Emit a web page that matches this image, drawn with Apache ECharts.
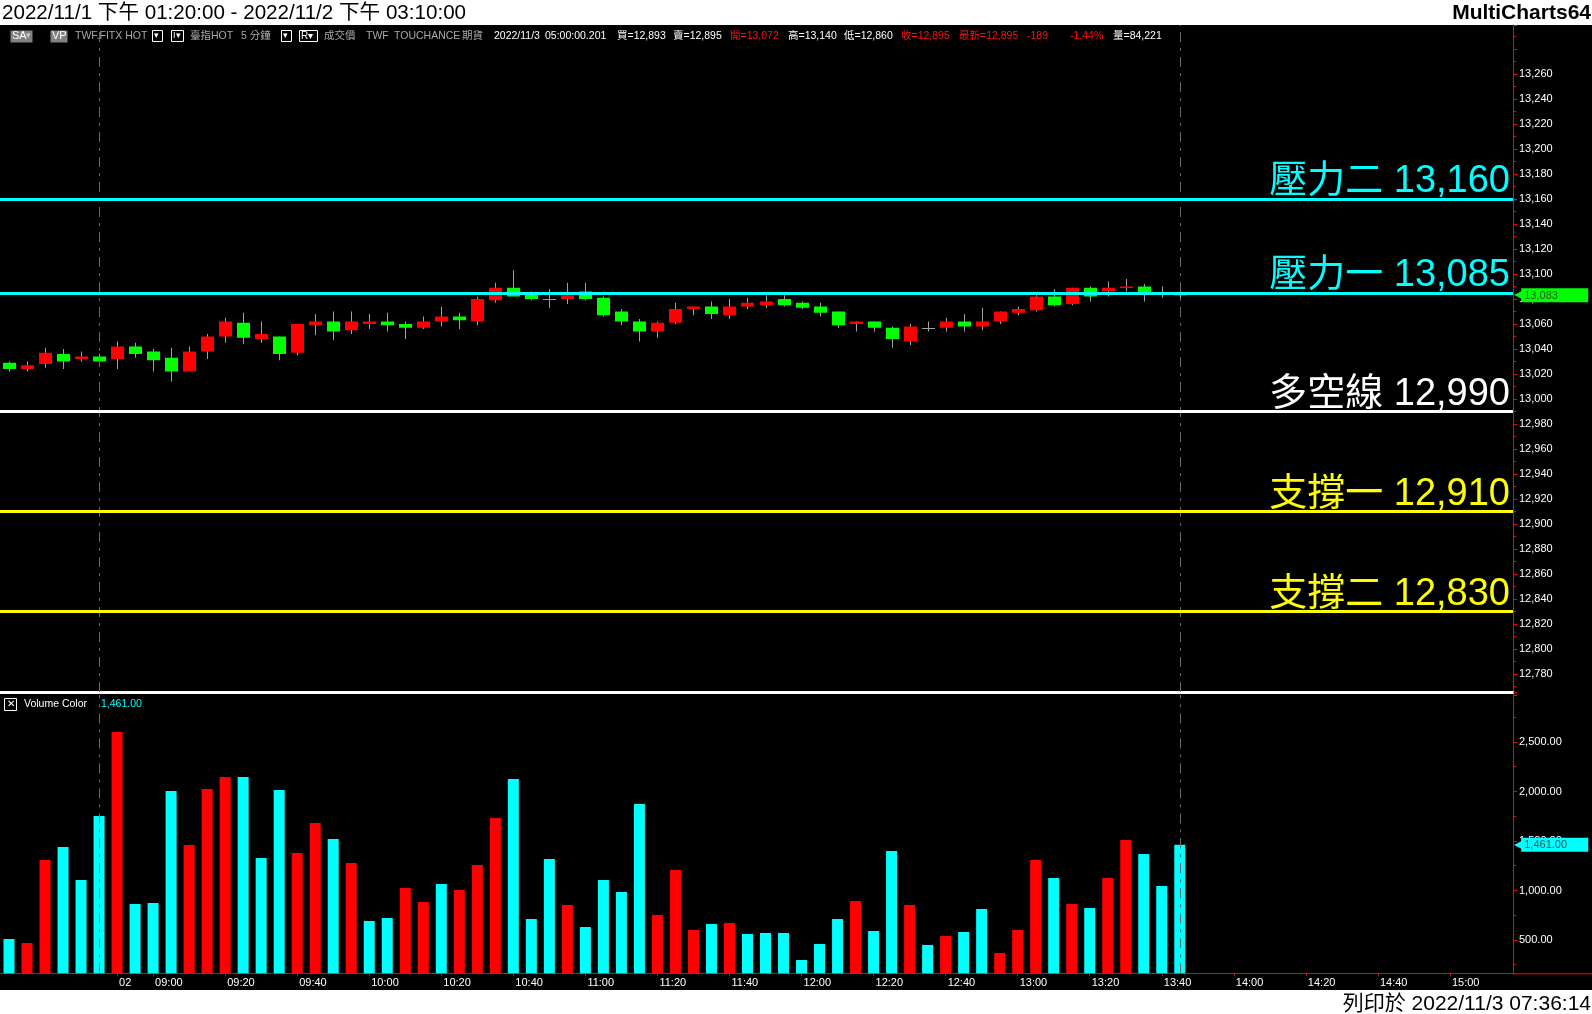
<!DOCTYPE html>
<html><head><meta charset="utf-8">
<script src="https://cdn.jsdelivr.net/npm/echarts@6/dist/echarts.min.js"></script>
<style>
html,body{margin:0;padding:0;background:#fff;overflow:hidden;}
#bg{position:absolute;left:0;top:25px;width:1592px;height:965px;background:#000;}
#c{position:absolute;left:0;top:0;width:1592px;height:1014px;}
</style></head><body><div id="bg"></div><div id="c"></div>
<script>
// ---------------- DATA ----------------
const categories = [
'11/1 13:20','11/1 13:25','11/1 13:30','11/1 13:35','11/1 13:40','11/1 13:45',
'11/2 08:50','11/2 08:55',
'11/2 09:00','11/2 09:05','11/2 09:10','11/2 09:15','11/2 09:20','11/2 09:25','11/2 09:30','11/2 09:35','11/2 09:40','11/2 09:45','11/2 09:50','11/2 09:55',
'11/2 10:00','11/2 10:05','11/2 10:10','11/2 10:15','11/2 10:20','11/2 10:25','11/2 10:30','11/2 10:35','11/2 10:40','11/2 10:45','11/2 10:50','11/2 10:55',
'11/2 11:00','11/2 11:05','11/2 11:10','11/2 11:15','11/2 11:20','11/2 11:25','11/2 11:30','11/2 11:35','11/2 11:40','11/2 11:45','11/2 11:50','11/2 11:55',
'11/2 12:00','11/2 12:05','11/2 12:10','11/2 12:15','11/2 12:20','11/2 12:25','11/2 12:30','11/2 12:35','11/2 12:40','11/2 12:45','11/2 12:50','11/2 12:55',
'11/2 13:00','11/2 13:05','11/2 13:10','11/2 13:15','11/2 13:20','11/2 13:25','11/2 13:30','11/2 13:35','11/2 13:40','11/2 13:45','11/2 13:50','11/2 13:55',
'11/2 14:00','11/2 14:05','11/2 14:10','11/2 14:15','11/2 14:20','11/2 14:25','11/2 14:30','11/2 14:35','11/2 14:40','11/2 14:45','11/2 14:50','11/2 14:55',
'11/2 15:00','11/2 15:05','11/2 15:10','11/2 15:15'
];
const openP  = [13029,13024,13028,13036,13032,13034,13032,13042,13038,13033,13022,13038,13050,13061,13048,13050,13037,13059,13062,13055,13060,13062,13060,13057,13062,13066,13062,13079,13089,13084,13080,13080,13086,13081,13070,13062,13054,13061,13072,13074,13067,13074,13075,13080,13077,13074,13070,13060,13062,13057,13046,13057,13057,13062,13058,13062,13069,13071,13082,13076,13089,13086,13089,13090,13084,13085];
const highP  = [13030,13030,13041,13040,13038,13036,13046,13045,13040,13041,13042,13052,13065,13069,13062,13050,13060,13068,13070,13070,13068,13069,13062,13066,13074,13069,13082,13093,13103,13086,13088,13093,13093,13082,13072,13064,13062,13077,13074,13078,13080,13081,13083,13083,13078,13077,13070,13062,13062,13058,13060,13062,13065,13068,13073,13070,13074,13083,13088,13089,13090,13094,13096,13092,13090,13086];
const lowP   = [13022,13022,13025,13024,13030,13028,13024,13033,13022,13014,13022,13032,13045,13044,13045,13031,13035,13051,13047,13052,13056,13054,13048,13056,13058,13056,13059,13077,13082,13079,13073,13076,13079,13066,13059,13046,13049,13060,13067,13064,13064,13072,13073,13074,13072,13066,13057,13054,13054,13041,13043,13054,13054,13054,13055,13060,13067,13070,13074,13075,13078,13082,13086,13078,13081,13080];
const closeP = [13024,13027,13037,13030,13034,13030,13042,13036,13031,13022,13038,13050,13062,13049,13052,13036,13060,13062,13054,13062,13062,13059,13057,13062,13066,13063,13080,13089,13082,13080,13080,13083,13080,13067,13062,13054,13061,13072,13074,13068,13074,13077,13078,13075,13073,13069,13059,13062,13057,13048,13058,13057,13062,13058,13062,13070,13072,13082,13075,13089,13082,13089,13090,13085,13084,13083];
const volume = [510,470,1308,1439,1106,1753,2601,864,874,2005,1460,2025,2146,2146,1328,2015,1379,1682,1520,1278,692,722,1025,884,1066,1005,1258,1732,2126,712,1318,854,631,1106,985,1874,753,1207,601,662,672,561,571,571,298,460,712,894,591,1399,854,450,540,581,813,369,601,1308,1126,864,823,1126,1510,1369,1045,1461];
const volDir = ['d','u','u','d','d','d','u','d','d','d','u','u','u','d','d','d','u','u','d','u','d','d','u','u','d','u','u','u','d','d','d','u','d','d','d','d','u','u','u','d','u','d','d','d','d','d','d','u','d','d','u','d','u','d','d','u','u','u','d','u','d','u','u','d','d','d'];
const levelNames  = ['壓力二','壓力一','多空線','支撐一','支撐二'];
const levelValues = [13160,13085,12990,12910,12830];
const sessionEnds = ['11/1 13:45','11/2 13:45'];
const xTickCats   = ['11/2 08:50','11/2 09:00','11/2 09:20','11/2 09:40','11/2 10:00','11/2 10:20','11/2 10:40','11/2 11:00','11/2 11:20','11/2 11:40','11/2 12:00','11/2 12:20','11/2 12:40','11/2 13:00','11/2 13:20','11/2 13:40','11/2 14:00','11/2 14:20','11/2 14:40','11/2 15:00'];
const xTickLabels = ['02','09:00','09:20','09:40','10:00','10:20','10:40','11:00','11:20','11:40','12:00','12:20','12:40','13:00','13:20','13:40','14:00','14:20','14:40','15:00'];
const lastPrice = 13083;
const lastVolume = 1461;

// ---------------- STYLE / LAYOUT ----------------
const levelColors = ['#00ffff','#00ffff','#ffffff','#ffff00','#ffff00'];
const UP = '#ff0000', DOWN = '#00ff00', VUP = '#ff0000', VDOWN = '#00ffff', AXIS = '#ff0000';
const FONT = '"Liberation Sans", Arial, "Noto Sans CJK TC", sans-serif';
const G0 = {left: 0, right: 79, top: 25, height: 667};
const G1 = {left: 0, right: 79, top: 695, height: 278.3};
const priceRange = [12765.6, 13299.2];
const volRange = [163.6, 2974.7];

const fmtInt = v => Math.round(v).toLocaleString('en-US');
const fmt2 = v => v.toLocaleString('en-US', {minimumFractionDigits: 2, maximumFractionDigits: 2});
const tickMap = {};
xTickCats.forEach((c, i) => { tickMap[c] = xTickLabels[i]; });
const tickShow = (idx, val) => tickMap[val] !== undefined;

const candleData = categories.slice(0, openP.length).map((c, i) => [i, openP[i], closeP[i], lowP[i], highP[i]]);
const volData = volume.map((v, i) => ({value: v, itemStyle: {color: volDir[i] === 'u' ? VUP : VDOWN}}));

const chart = echarts.init(document.getElementById('c'), null, {renderer: 'canvas'});

function txt(x, y, text, color, size, extra) {
  return Object.assign({type: 'text', x: x, y: y, silent: true, z: 10,
    style: Object.assign({text: text, fill: color, font: (size || 10.5) + 'px ' + FONT,
      textVerticalAlign: 'middle', verticalAlign: 'middle'}, (extra || {}))});
}
function box(x, y, w, h, fill, stroke) {
  return {type: 'rect', silent: true, z: 9, shape: {x: x, y: y, width: w, height: h},
    style: {fill: fill || 'none', stroke: stroke || null, lineWidth: 1}};
}
const GRAY = '#a8a8b0', RED = '#ff1010', WHITE = '#ffffff';
const IY = 36;
const graphics = [
  txt(2, 13, '2022/11/1 下午 01:20:00 - 2022/11/2 下午 03:10:00', '#000', 20.6),
  txt(1591, 13, 'MultiCharts64', '#000', 21, {textAlign: 'right', align: 'right', font: 'bold 21px ' + FONT}),
  txt(1591, 1004, '列印於 2022/11/3 07:36:14', '#000', 21, {textAlign: 'right', align: 'right'}),
  box(10.5, 30.5, 22, 12, '#808080'), txt(12, IY, 'SA', WHITE, 11), txt(26, IY, '▾', '#cccccc', 9),
  box(50.5, 30.5, 17, 12, '#808080'), txt(52, IY, 'VP', WHITE, 11),
  txt(75, IY, 'TWF.FITX HOT', GRAY),
  box(152.5, 30.5, 10, 11, null, WHITE), txt(154, IY, '▾', WHITE, 9),
  box(171.5, 30.5, 12, 11, null, WHITE), txt(173, IY, 'I▾', WHITE, 9),
  txt(190, IY, '臺指HOT', GRAY), txt(241, IY, '5 分鐘', GRAY),
  box(281.5, 30.5, 10, 11, null, WHITE), txt(283, IY, '▾', WHITE, 9),
  box(299.5, 30.5, 18, 11, null, WHITE), txt(301, IY, 'R▾', WHITE, 10),
  txt(324, IY, '成交價', GRAY), txt(366, IY, 'TWF', GRAY), txt(394, IY, 'TOUCHANCE', GRAY), txt(462, IY, '期貨', GRAY),
  txt(494, IY, '2022/11/3', WHITE), txt(545, IY, '05:00:00.201', WHITE),
  txt(617, IY, '買=12,893', WHITE), txt(673, IY, '賣=12,895', WHITE), txt(730, IY, '開=13,072', RED),
  txt(788, IY, '高=13,140', WHITE), txt(844, IY, '低=12,860', WHITE), txt(901, IY, '收=12,895', RED),
  txt(959, IY, '最新=12,895', RED), txt(1027, IY, '-189', RED), txt(1070, IY, '-1.44%', RED), txt(1113, IY, '量=84,221', WHITE),
  box(4.5, 698.5, 12, 12, null, WHITE), txt(7, 704.5, '✕', WHITE, 10),
  txt(24, 704, 'Volume Color', WHITE), txt(101, 704, fmt2(lastVolume), '#00ffff'),
  {type: 'line', silent: true, z: 1, shape: {x1: 1513, y1: 973.8, x2: 1592, y2: 973.8}, style: {stroke: AXIS, lineWidth: 1}}
];

function markerLabel(bg, textColor, text) {
  return {
    show: true, position: 'end', distance: 1,
    formatter: '{a|◀}{b|' + text + '}',
    rich: {
      a: {color: bg, fontSize: 12, fontFamily: 'DejaVu Sans', padding: [0, -2, 0, 0]},
      b: {backgroundColor: bg, color: textColor, fontSize: 11, fontFamily: FONT, width: 64, height: 13, lineHeight: 13, padding: [1, 0, 0, 3]}
    }
  };
}

const option = {
  backgroundColor: 'transparent',
  animation: false,
  graphic: graphics,
  grid: [G0, G1],
  xAxis: [
    {type: 'category', gridIndex: 0, data: categories, boundaryGap: true,
      axisLine: {show: true, lineStyle: {color: '#ffffff', width: 3}},
      axisTick: {show: false}, axisLabel: {show: false}, splitLine: {show: false}},
    {type: 'category', gridIndex: 1, data: categories, boundaryGap: true,
      axisLine: {show: true, lineStyle: {color: AXIS, width: 1}},
      axisTick: {show: true, alignWithLabel: true, interval: tickShow, length: 3, lineStyle: {color: AXIS}},
      axisLabel: {show: true, interval: tickShow, formatter: v => tickMap[v] || '', align: 'left',
        margin: 4, padding: [0, 0, 0, 2], color: '#ffffff', fontSize: 11, fontFamily: FONT},
      splitLine: {show: false}}
  ],
  yAxis: [
    {type: 'value', gridIndex: 0, position: 'right', min: priceRange[0], max: priceRange[1],
      splitNumber: 26, minInterval: 20, maxInterval: 20,
      axisLine: {show: true, lineStyle: {color: AXIS}},
      axisTick: {show: true, length: 4, lineStyle: {color: AXIS}},
      minorTick: {show: true, splitNumber: 2, length: 3, lineStyle: {color: AXIS}},
      axisLabel: {show: true, margin: 6, color: '#ffffff', fontSize: 11, fontFamily: FONT,
        showMinLabel: false, showMaxLabel: false,
        formatter: v => (Math.abs(v / 20 - Math.round(v / 20)) < 1e-6 && v <= 13260.5) ? fmtInt(v) : ''},
      splitLine: {show: false}, minorSplitLine: {show: false}},
    {type: 'value', gridIndex: 1, position: 'right', min: volRange[0], max: volRange[1],
      splitNumber: 5, minInterval: 500, maxInterval: 500,
      axisLine: {show: true, lineStyle: {color: AXIS}},
      axisTick: {show: true, length: 4, lineStyle: {color: AXIS}},
      minorTick: {show: true, splitNumber: 2, length: 3, lineStyle: {color: AXIS}},
      axisLabel: {show: true, margin: 6, color: '#ffffff', fontSize: 11, fontFamily: FONT,
        showMinLabel: false, showMaxLabel: false,
        formatter: v => (Math.abs(v / 500 - Math.round(v / 500)) < 1e-6) ? fmt2(v) : ''},
      splitLine: {show: false}, minorSplitLine: {show: false}}
  ],
  series: [
    {name: 'sessionP', type: 'line', xAxisIndex: 0, yAxisIndex: 0, data: [], z: 1, silent: true,
      markLine: {silent: true, symbol: ['none', 'none'], animation: false, label: {show: false},
        lineStyle: {color: '#6a6a6a', width: 1, type: [10, 6, 3, 6]},
        data: sessionEnds.map(c => ({xAxis: c}))}},
    {name: 'sessionV', type: 'line', xAxisIndex: 1, yAxisIndex: 1, data: [], z: 1, silent: true,
      markLine: {silent: true, symbol: ['none', 'none'], animation: false, label: {show: false},
        lineStyle: {color: '#6a6a6a', width: 1, type: [10, 6, 3, 6]},
        data: sessionEnds.map(c => ({xAxis: c}))}},
    {name: 'K', type: 'custom', xAxisIndex: 0, yAxisIndex: 0, z: 3, clip: true,
      encode: {x: 0, y: [1, 2, 3, 4]},
      data: candleData,
      renderItem: function (params, api) {
        const i = api.value(0), o = api.value(1), c = api.value(2), l = api.value(3), h = api.value(4);
        const pO = api.coord([i, o]), pC = api.coord([i, c]), pL = api.coord([i, l]), pH = api.coord([i, h]);
        const w = Math.round(api.size([1, 0])[0] * 0.72);
        const cx = Math.round(pO[0]) + 0.5;
        const top = Math.min(pO[1], pC[1]), bot = Math.max(pO[1], pC[1]);
        const children = [{type: 'line', shape: {x1: cx, y1: pH[1], x2: cx, y2: pL[1]},
          style: {stroke: '#a0a0a0', lineWidth: 1}}];
        if (o === c) {
          const yy = Math.round(top) + 0.5;
          children.push({type: 'line', shape: {x1: cx - w / 2, y1: yy, x2: cx + w / 2, y2: yy},
            style: {stroke: '#a0a0a0', lineWidth: 1}});
        } else {
          children.push({type: 'rect', shape: {x: Math.round(cx - w / 2), y: top, width: w, height: Math.max(bot - top, 1.5)},
            style: {fill: c > o ? UP : DOWN}});
        }
        return {type: 'group', children: children};
      }},
    {name: 'levels', type: 'line', xAxisIndex: 0, yAxisIndex: 0, data: [], z: 5, silent: true,
      markLine: {silent: true, symbol: ['none', 'none'], animation: false,
        data: levelValues.map((v, i) => ({
          name: levelNames[i], yAxis: v,
          lineStyle: {color: levelColors[i], width: 3, type: 'solid'},
          label: {show: true, position: 'insideEndTop', distance: [3, -2], color: levelColors[i],
            fontSize: 38, fontFamily: FONT,
            formatter: p => p.name + ' ' + fmtInt(p.value)}
        }))}},
    {name: 'lastP', type: 'line', xAxisIndex: 0, yAxisIndex: 0, data: [], z: 6, silent: true, clip: false,
      markLine: {silent: true, symbol: ['none', 'none'], animation: false,
        lineStyle: {color: 'rgba(0,0,0,0)', width: 1},
        data: [{yAxis: lastPrice, label: markerLabel('#00ff00', '#2a5a2a', fmtInt(lastPrice))}]}},
    {name: 'Vol', type: 'bar', xAxisIndex: 1, yAxisIndex: 1, z: 3, clip: true, barWidth: 11,
      data: volData, silent: true},
    {name: 'lastV', type: 'line', xAxisIndex: 1, yAxisIndex: 1, data: [], z: 6, silent: true, clip: false,
      markLine: {silent: true, symbol: ['none', 'none'], animation: false,
        lineStyle: {color: 'rgba(0,0,0,0)', width: 1},
        data: [{yAxis: lastVolume, label: markerLabel('#00ffff', '#205a5a', fmt2(lastVolume))}]}}
  ]
};
chart.setOption(option);
</script>
</body></html>
